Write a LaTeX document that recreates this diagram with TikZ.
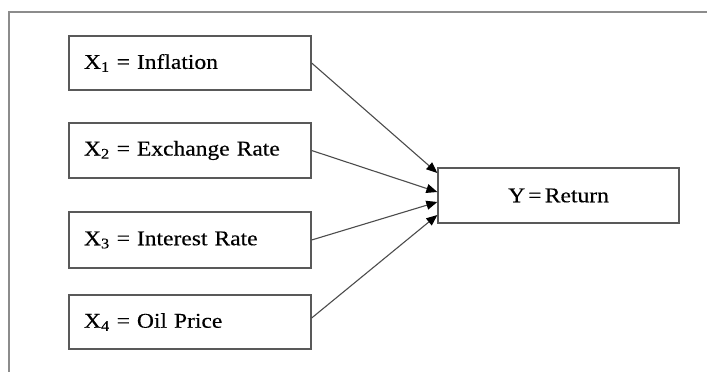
\documentclass[tikz,border=0pt]{standalone}
\usepackage{fontspec}
\setmainfont{Liberation Serif}[FakeStretch=1.12,WordSpace=0.55,FakeBold=0.4]
\usetikzlibrary{arrows.meta}
\begin{document}
\begin{tikzpicture}[x=1pt,y=-1pt,
  frameline/.style={draw=black!45,line width=1.8pt},
  varbox/.style={draw=black!65,line width=1.3pt,rectangle,minimum width=242pt,minimum height=55pt,
     inner xsep=15pt,text width=212pt,align=left,font=\fontsize{21}{24}\selectfont},
  retbox/.style={draw=black!65,line width=1.3pt,rectangle,minimum width=241pt,minimum height=55pt,
     align=center,font=\fontsize{21}{24}\selectfont},
  link/.style={draw=black!70,line width=1.1pt,-{Triangle[length=11pt,width=9pt,fill=black,color=black]}}]
\useasboundingbox (0,0) rectangle (707,372);
\coordinate (fb) at (9,372);
\coordinate (fc) at (9,12);
\coordinate (fr) at (707,12);
\draw[frameline] (fb) -- (fc) -- (fr);
\node[varbox,minimum height=54pt] (b1) at (190,63) {X\textsubscript{1} = Inflation};
\node[varbox] (b2) at (190,150.5) {X\textsubscript{2} = Exchange Rate};
\node[varbox,minimum height=56pt] (b3) at (190,240) {X\textsubscript{3} = Interest Rate};
\node[varbox,minimum height=54pt] (b4) at (190,322) {X\textsubscript{4} = Oil Price};
\node[retbox] (y) at (558.5,195.5) {Y = Return};
\draw[link] (b1.east) -- ([yshift=22.5pt]y.west);
\draw[link] (b2.east) -- ([yshift=3.5pt]y.west);
\draw[link] (b3.east) -- ([yshift=-6.5pt]y.west);
\draw[link] ([yshift=4pt]b4.east) -- ([yshift=-19.5pt]y.west);
\end{tikzpicture}
\end{document}
